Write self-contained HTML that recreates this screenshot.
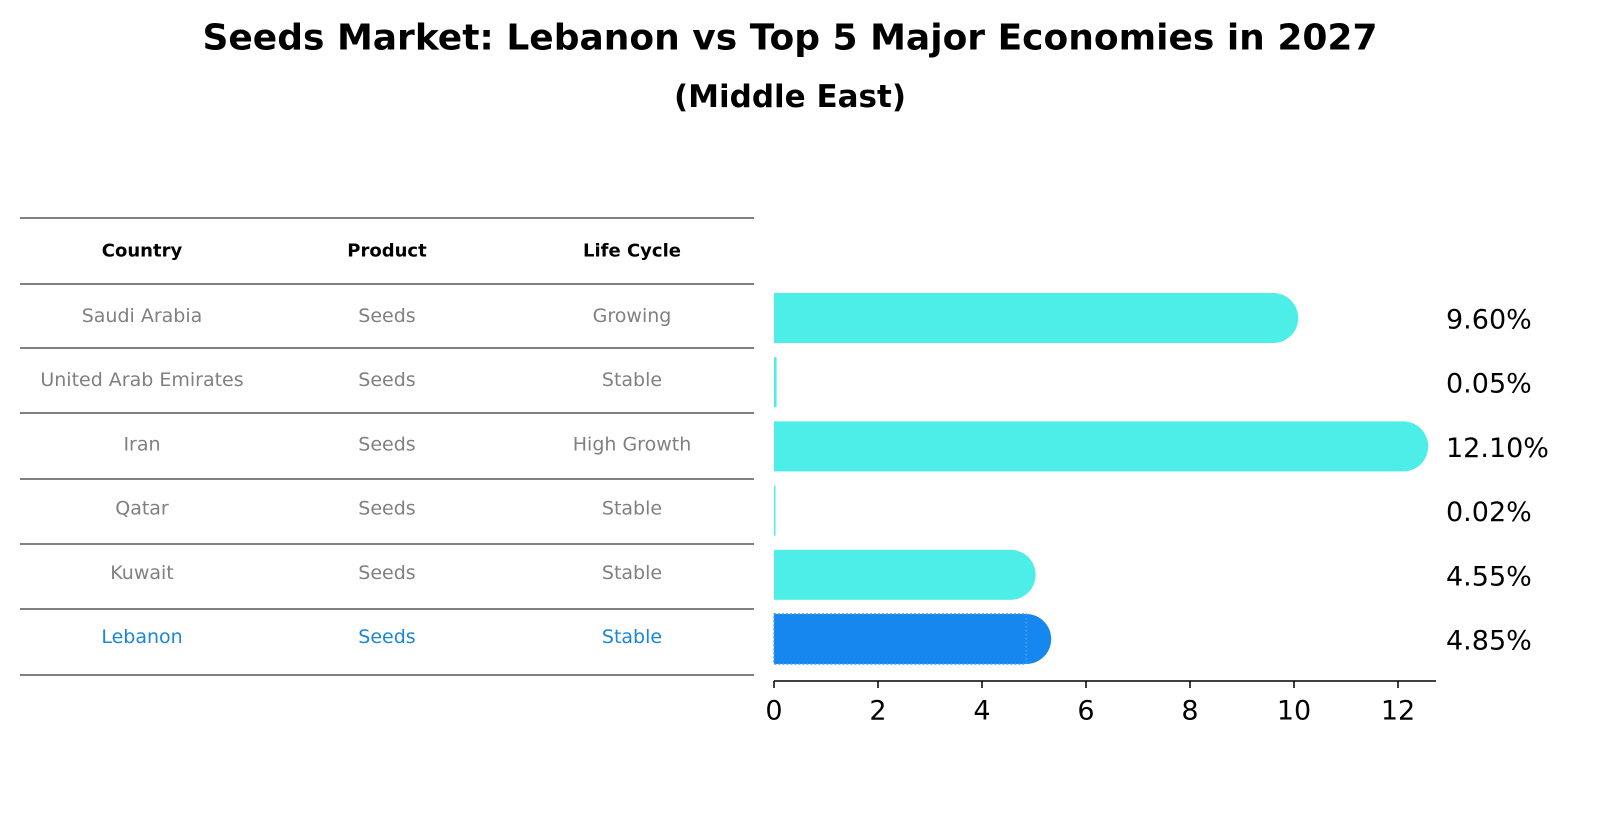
<!DOCTYPE html>
<html><head><meta charset="utf-8"><style>
body{margin:0;background:#fff;font-family:"Liberation Sans","DejaVu Sans",sans-serif;}
svg text{font-family:"DejaVu Sans","Liberation Sans",sans-serif;}
</style></head><body>
<svg id="chart" width="1604" height="823" xmlns="http://www.w3.org/2000/svg">
<text x="790" y="38" text-anchor="middle" dominant-baseline="central" font-size="36" font-weight="bold">Seeds Market: Lebanon vs Top 5 Major Economies in 2027</text>
<text x="790" y="97" text-anchor="middle" dominant-baseline="central" font-size="31" font-weight="bold">(Middle East)</text>
<g id="table"></g>
<g id="bars"></g>
</svg>
<script>
const countries=["Saudi Arabia","United Arab Emirates","Iran","Qatar","Kuwait","Lebanon"];
const products=["Seeds","Seeds","Seeds","Seeds","Seeds","Seeds"];
const lifeCycles=["Growing","Stable","High Growth","Stable","Stable","Stable"];
const values=[9.60,0.05,12.10,0.02,4.55,4.85];
const valueLabels=["9.60%","0.05%","12.10%","0.02%","4.55%","4.85%"];
const xTicks=[0,2,4,6,8,10,12];

const NS="http://www.w3.org/2000/svg";
function mk(tag,attrs,parent,txt){const e=document.createElementNS(NS,tag);for(const k in attrs)e.setAttribute(k,attrs[k]);if(txt!==undefined)e.textContent=txt;parent.appendChild(e);return e;}
const x=v=>774+v*52;
const rowY=i=>318+i*64.2;

const tbl=document.getElementById('table');
const lineYs=[218,284,348,413,479,544,609,675];
lineYs.forEach(y=>{const l=mk('line',{x1:20,x2:754,y1:y,y2:y,stroke:'#000','stroke-width':1},tbl);

});
const cx=[142,387,632];
["Country","Product","Life Cycle"].forEach((h,j)=>{const t=mk('text',{x:cx[j],y:251,'text-anchor':'middle','dominant-baseline':'central','font-size':18,'font-weight':'bold'},tbl,h);

});
countries.forEach((c,i)=>{
 const col=i===countries.length-1?'#1a87d6':'#808080';
 [c,products[i],lifeCycles[i]].forEach((s,j)=>{
  const t=mk('text',{x:cx[j],y:rowY(i)-2,'text-anchor':'middle','dominant-baseline':'central','font-size':19,fill:col},tbl,s);
  
  
 });
});

const g=document.getElementById('bars');
const h=50,r=25;
values.forEach((v,i)=>{
 const last=i===values.length-1;
 const col=last?'#1787f0':'#4deee8';
 const y=rowY(i);
 const w=Math.max(x(v)-x(0),1.5);
 const grp=mk('g',{},g);
 
 
 mk('rect',{x:x(0),y:y-h/2,width:w,height:h,fill:col},grp);
 if(v>1) mk('circle',{cx:x(v),cy:y,r:r,fill:col},grp);
 if(last){mk('rect',{x:x(0),y:y-h/2,width:w,height:h,fill:'none',stroke:'#3a9cf5','stroke-width':1.5,'stroke-dasharray':'2,2'},grp);}
 const t=mk('text',{x:1446,y:y+2,'dominant-baseline':'central','font-size':27},g,valueLabels[i]);
 
 
});
const ax=mk('line',{x1:774,x2:1436,y1:681,y2:681,stroke:'#000','stroke-width':1.5},g);


xTicks.forEach(v=>{
 const tk=mk('line',{x1:x(v),x2:x(v),y1:681,y2:688,stroke:'#000','stroke-width':1.5},g);
 
 
 const t=mk('text',{x:x(v),y:711,'text-anchor':'middle','dominant-baseline':'central','font-size':27},g,String(v));
 
 
});
</script>
</body></html>
